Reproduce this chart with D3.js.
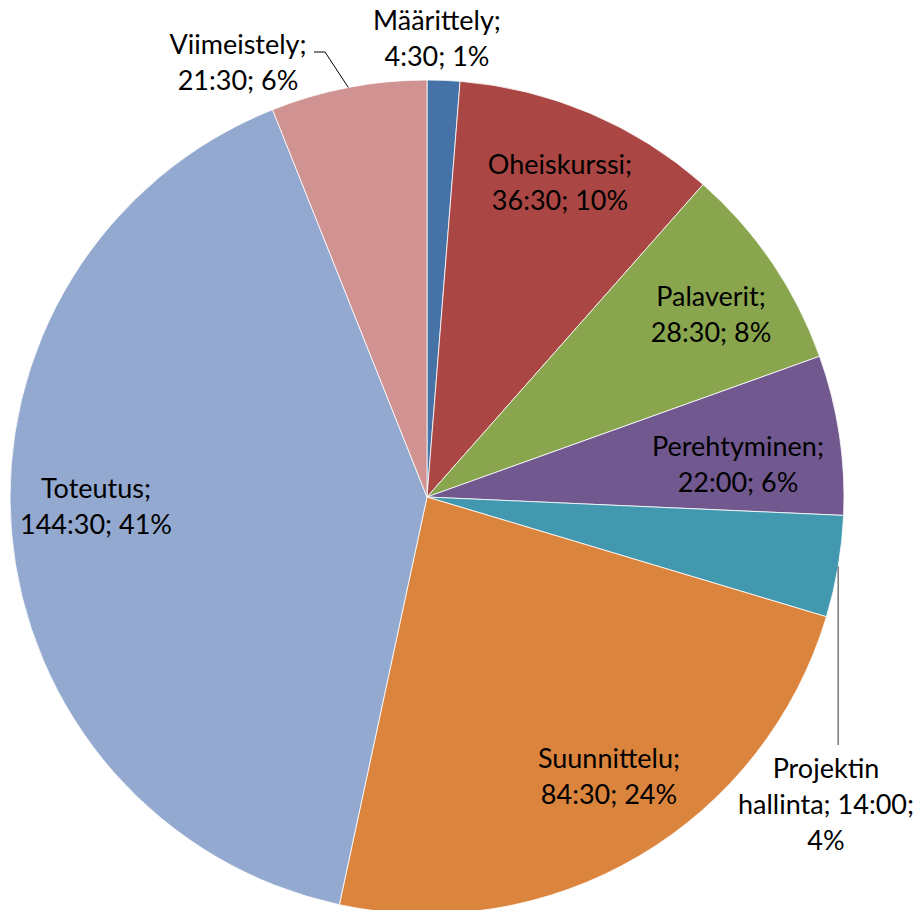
<!DOCTYPE html>
<html>
<head>
<meta charset="utf-8">
<script src="https://cdn.jsdelivr.net/npm/d3@7"></script>
<style>
  html, body { margin: 0; padding: 0; background: #fff; }
  svg { display: block; }
  text { font-family: Lato, "Open Sans", sans-serif; font-size: 27px; fill: #000; }
</style>
</head>
<body>
<svg id="chart" width="920" height="910"></svg>
<script>
// ---- data ----
const categories = ["Määrittely", "Oheiskurssi", "Palaverit", "Perehtyminen",
  "Projektin hallinta", "Suunnittelu", "Toteutus", "Viimeistely"];
const hours = [4.5, 36.5, 28.5, 22, 14, 84.5, 144.5, 21.5];
const timeLabels = ["4:30", "36:30", "28:30", "22:00", "14:00", "84:30", "144:30", "21:30"];
const percentLabels = ["1%", "10%", "8%", "6%", "4%", "24%", "41%", "6%"];
const colors = ["#4572A7", "#AA4643", "#89A54E", "#71588F", "#4198AF", "#DB843D", "#93A9CF", "#D19392"];

// label text lines (wrapped as in the original)
const labelLines = [
  ["Määrittely;", "4:30; 1%"],
  ["Oheiskurssi;", "36:30; 10%"],
  ["Palaverit;", "28:30; 8%"],
  ["Perehtyminen;", "22:00; 6%"],
  ["Projektin", "hallinta; 14:00;", "4%"],
  ["Suunnittelu;", "84:30; 24%"],
  ["Toteutus;", "144:30; 41%"],
  ["Viimeistely;", "21:30; 6%"]
];

// ---- layout ----
const cx = 427, cy = 497, R = 417;
const lineH = 36;
// label block centres, relative to the pie centre
const labelOffsets = [
  [10, -458], [133, -314], [284, -182], [311, -32],
  [399, 308], [182, 280], [-331, 10], [-189, -434]
];

const svg = d3.select("#chart");
const g = svg.append("g").attr("transform", `translate(${cx},${cy})`);

const data = categories.map((c, i) => ({ name: c, value: hours[i], i }));
const pie = d3.pie().value(d => d.value).sort(null).startAngle(0).endAngle(2 * Math.PI);
const arcs = pie(data);
const arc = d3.arc().innerRadius(0).outerRadius(R);

g.selectAll("path.slice").data(arcs).enter().append("path")
  .attr("class", "slice")
  .attr("d", arc)
  .attr("fill", d => colors[d.data.i])
  .attr("stroke", "#fff")
  .attr("stroke-width", 0.8);

function polar(a, r) { return [Math.sin(a) * r, -Math.cos(a) * r]; }

// leader lines
const leaderLine = d3.line();
{
  const a = (arcs[7].startAngle + arcs[7].endAngle) / 2;
  const p0 = polar(a, R);
  g.append("path").attr("d", leaderLine([p0, [-102, -445], [-113, -445]]))
    .attr("fill", "none").attr("stroke", "#000").attr("stroke-width", 1);
}
{
  const a = (arcs[4].startAngle + arcs[4].endAngle) / 2;
  const p0 = polar(a, R);
  g.append("path").attr("d", leaderLine([p0, [p0[0], 248]]))
    .attr("fill", "none").attr("stroke", "#555").attr("stroke-width", 1.2);
}

// labels
arcs.forEach((d, i) => {
  const lines = labelLines[i];
  const [x, y] = labelOffsets[i];
  const t = g.append("text")
    .attr("text-anchor", "middle")
    .attr("x", x)
    .attr("y", y - (lines.length - 1) * lineH / 2);
  lines.forEach((ln, k) => {
    t.append("tspan").attr("x", x).attr("dy", k === 0 ? "0.35em" : lineH).text(ln);
  });
});
</script>
</body>
</html>
